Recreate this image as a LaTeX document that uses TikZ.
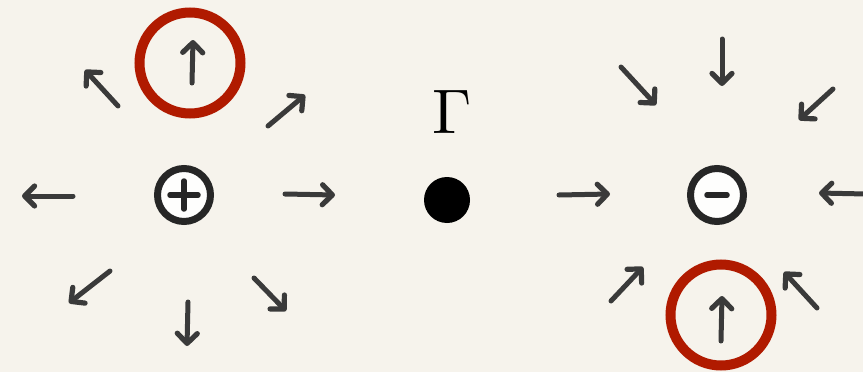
\documentclass[tikz,border=0pt]{standalone}
\usepackage{graphicx}
\usetikzlibrary{arrows.meta}
\definecolor{paper}{HTML}{F6F3EC}
\definecolor{ink}{HTML}{3A3A3A}
\definecolor{redring}{HTML}{B01A00}
\begin{document}
\begin{tikzpicture}[x=1pt,y=-1pt,
  fieldarrow/.style={draw=ink, line width=5pt, line cap=round, line join=round,
    -{Straight Barb[length=10pt,width=20pt,line width=5.2pt,round]}},
  charge/.style={circle, draw=black!85, line width=7pt, minimum size=53pt, inner sep=0pt, fill=white!92!paper},
  ring/.style={circle, draw=redring, line width=10pt, minimum size=101pt, inner sep=0pt},
  sign/.style={draw=black!85, line width=5.5pt, line cap=round}]
\fill[paper] (0,0) rectangle (863,372);
\useasboundingbox (0,0) rectangle (863,372);
% charges
\node[charge] (pos) at (184,195) {};
\node[charge] (neg) at (717,195) {};
\draw[sign] ([xshift=-14pt]pos.center) -- ([xshift=14pt]pos.center);
\draw[sign] ([yshift=-14pt]pos.center) -- ([yshift=14pt]pos.center);
\draw[sign] ([xshift=-10pt]neg.center) -- ([xshift=10pt]neg.center);
% Gamma point
\node[circle, fill=black, minimum size=46pt, inner sep=0pt] (pt) at (447,200) {};
\node[inner sep=0pt] (gam) at (452,112) {\scalebox{6.3}{$\Gamma$}};
% red rings
\node[ring] (rtop) at (190,63) {};
\node[ring] (rbot) at (721,315) {};
% left arrow coordinates (tail a, tip b)
\coordinate (l1a) at (192,83);  \coordinate (l1b) at (193,40);
\coordinate (l2a) at (118,106); \coordinate (l2b) at (85,70);
\coordinate (l3a) at (268,126); \coordinate (l3b) at (305,95);
\coordinate (l4a) at (73,196);  \coordinate (l4b) at (22,196);
\coordinate (l5a) at (285,194); \coordinate (l5b) at (335,195);
\coordinate (l6a) at (110,271); \coordinate (l6b) at (69,303);
\coordinate (l7a) at (188,302); \coordinate (l7b) at (187,346);
\coordinate (l8a) at (254,278); \coordinate (l8b) at (286,311);
\foreach \i in {1,...,8} \draw[fieldarrow] (l\i a) -- (l\i b);
% right arrow coordinates
\coordinate (r1a) at (721,341); \coordinate (r1b) at (722,296);
\coordinate (r2a) at (722,39);  \coordinate (r2b) at (722,86);
\coordinate (r3a) at (621,67);  \coordinate (r3b) at (656,105);
\coordinate (r4a) at (833,89);  \coordinate (r4b) at (799,120);
\coordinate (r5a) at (559,195); \coordinate (r5b) at (610,194);
\coordinate (r6a) at (866,194); \coordinate (r6b) at (819,193);
\coordinate (r7a) at (611,301); \coordinate (r7b) at (643,267);
\coordinate (r8a) at (817,308); \coordinate (r8b) at (784,272);
\foreach \i in {1,...,8} \draw[fieldarrow] (r\i a) -- (r\i b);
\end{tikzpicture}
\end{document}
